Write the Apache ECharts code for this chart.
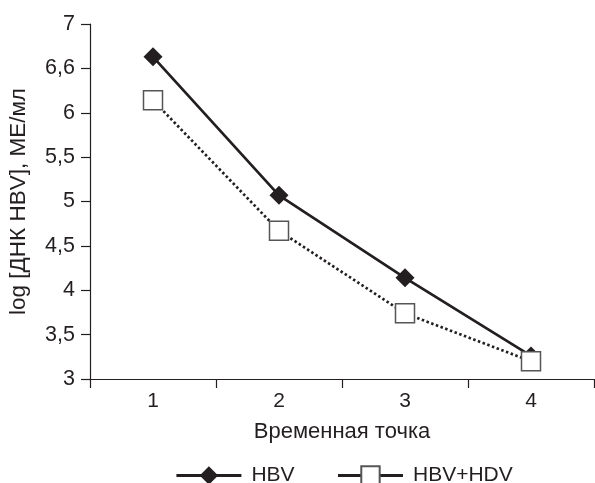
<!DOCTYPE html>
<html>
<head>
<meta charset="utf-8">
<script src="https://cdn.jsdelivr.net/npm/echarts@6/dist/echarts.min.js"></script>
<style>html,body{margin:0;padding:0;background:#fff}#c{width:595px;height:483px}</style>
</head>
<body>
<div id="c"></div>
<script>
const categories = ['1', '2', '3', '4'];
const hbv = [6.63, 5.07, 4.14, 3.26];
const hbvHdv = [6.14, 4.67, 3.74, 3.2];
const yTickLabels = ['3', '3,5', '4', '4,5', '5', '5,5', '6', '6,6', '7'];

const ink = '#231f20';
const font = 'Liberation Sans';
const chart = echarts.init(document.getElementById('c'));
chart.setOption({
  animation: false,
  backgroundColor: '#fff',
  grid: { left: 90, right: 1, top: 24, bottom: 104, containLabel: false, outerBoundsMode: 'none' },
  legend: {
    top: 465,
    left: 175,
    padding: 0,
    itemWidth: 65,
    itemHeight: 23,
    itemGap: 42,
    textStyle: { fontFamily: font, fontSize: 21, color: ink, padding: [0, 0, 0, 5] },
    data: [
      { name: 'HBV', lineStyle: { type: 'solid', width: 2.8 } },
      { name: 'HBV+HDV', lineStyle: { type: 'solid', width: 2.8 } }
    ]
  },
  xAxis: {
    type: 'category',
    data: categories,
    boundaryGap: true,
    name: 'Временная точка',
    nameLocation: 'middle',
    nameGap: 42,
    nameTextStyle: { fontFamily: font, fontSize: 22, color: ink },
    axisLine: { lineStyle: { color: ink, width: 1.2 } },
    axisTick: { show: true, length: 9, alignWithLabel: false, lineStyle: { color: ink, width: 1.2 } },
    axisLabel: { fontFamily: font, fontSize: 21, color: ink, margin: 12 },
    splitLine: { show: false }
  },
  yAxis: {
    type: 'value',
    min: 3,
    max: 7,
    interval: 0.5,
    name: 'log [ДНК HBV], МЕ/мл',
    nameLocation: 'middle',
    nameGap: 60,
    nameTextStyle: { fontFamily: font, fontSize: 22.5, color: ink },
    axisLine: { show: true, lineStyle: { color: ink, width: 1.2 } },
    axisTick: { show: true, length: 9, lineStyle: { color: ink, width: 1.2 } },
    axisLabel: {
      fontFamily: font, fontSize: 21.5, color: ink, margin: 15,
      formatter: function (v) {
        const i = Math.round((v - 3) / 0.5);
        return yTickLabels[i];
      }
    },
    splitLine: { show: false }
  },
  series: [
    {
      name: 'HBV',
      type: 'line',
      data: hbv,
      symbol: 'diamond',
      symbolSize: 19,
      z: 3,
      lineStyle: { color: ink, width: 2.7, type: 'solid' },
      itemStyle: { color: ink, borderColor: ink, borderWidth: 0 }
    },
    {
      name: 'HBV+HDV',
      type: 'line',
      data: hbvHdv,
      symbol: 'rect',
      symbolSize: 19,
      z: 4,
      lineStyle: { color: ink, width: 2.7, type: [2.5, 2.5] },
      itemStyle: { color: '#fff', borderColor: '#555', borderWidth: 1.5 }
    }
  ]
});
</script>
</body>
</html>
